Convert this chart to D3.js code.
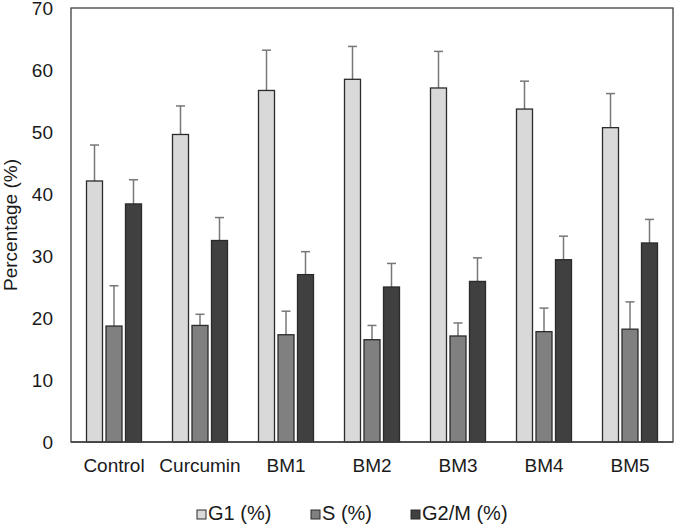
<!DOCTYPE html>
<html>
<head>
<meta charset="utf-8">
<script src="https://cdn.jsdelivr.net/npm/d3@7"></script>
<style>
  body { margin: 0; background: #fff; }
  svg text { font-family: "Liberation Sans", Arial, sans-serif; fill: #1a1a1a; }
</style>
</head>
<body>
<div id="chart"></div>
<script>
const groups = ["Control", "Curcumin", "BM1", "BM2", "BM3", "BM4", "BM5"];
const seriesNames = ["G1 (%)", "S (%)", "G2/M (%)"];
const g1Values  = [42.1, 49.6, 56.7, 58.5, 57.1, 53.7, 50.7];
const g1Errors  = [5.8, 4.6, 6.5, 5.3, 5.9, 4.5, 5.5];
const sValues   = [18.7, 18.8, 17.3, 16.5, 17.1, 17.8, 18.2];
const sErrors   = [6.5, 1.8, 3.8, 2.3, 2.1, 3.8, 4.4];
const g2mValues = [38.4, 32.5, 27.0, 25.0, 25.9, 29.4, 32.1];
const g2mErrors = [3.9, 3.7, 3.7, 3.8, 3.8, 3.8, 3.8];
const yTicks = [0, 10, 20, 30, 40, 50, 60, 70];
const colors = ["#d9d9d9", "#808080", "#404040"];

const series = [
  { name: seriesNames[0], values: g1Values, errors: g1Errors, color: colors[0] },
  { name: seriesNames[1], values: sValues, errors: sErrors, color: colors[1] },
  { name: seriesNames[2], values: g2mValues, errors: g2mErrors, color: colors[2] }
];

const W = 675, H = 526;
const MARGIN = { top: 8, right: 2, bottom: 84, left: 71 };
const chartWidth = W - MARGIN.left - MARGIN.right;
const chartHeight = H - MARGIN.top - MARGIN.bottom;
const FONT = 19;

const svg = d3.select("#chart").append("svg")
  .attr("width", W).attr("height", H);

const g = svg.append("g")
  .attr("transform", `translate(${MARGIN.left},${MARGIN.top})`);

const xScale = d3.scaleBand().domain(groups).range([0, chartWidth]).padding(0);
const yScale = d3.scaleLinear().domain([0, 70]).range([chartHeight, 0]);

const barW = 16, gap = 3.5;
const offsets = [-(barW + gap), 0, barW + gap];

// frame
g.append("rect")
  .attr("width", chartWidth).attr("height", chartHeight)
  .attr("fill", "none").attr("stroke", "#404040").attr("stroke-width", 1.3);

// y axis labels
g.append("g")
  .call(d3.axisLeft(yScale).tickValues(yTicks).tickSize(0).tickPadding(18))
  .call(a => a.select(".domain").remove())
  .call(a => a.selectAll("text").attr("font-size", FONT).style("font-family", "Liberation Sans, Arial, sans-serif").attr("fill", "#1a1a1a"));

// x axis labels
g.append("g")
  .attr("transform", `translate(0,${chartHeight})`)
  .call(d3.axisBottom(xScale).tickSize(0))
  .call(a => a.select(".domain").remove())
  .call(a => a.selectAll("text").attr("y", 30).attr("dy", 0).attr("font-size", FONT).style("font-family", "Liberation Sans, Arial, sans-serif").attr("fill", "#1a1a1a"));

g.append("text")
  .attr("transform", "rotate(-90)")
  .attr("x", -chartHeight / 2)
  .attr("y", -54)
  .attr("text-anchor", "middle")
  .attr("font-size", FONT)
  .text("Percentage (%)");

series.forEach((s, si) => {
  const sg = g.append("g");
  const cx = (d, i) => xScale(groups[i]) + xScale.bandwidth() / 2 + offsets[si];

  // error bars
  sg.selectAll(".err").data(s.values).enter().append("line")
    .attr("x1", cx).attr("x2", cx)
    .attr("y1", d => yScale(d))
    .attr("y2", (d, i) => yScale(d + s.errors[i]))
    .attr("stroke", "#777").attr("stroke-width", 1.5);
  sg.selectAll(".cap").data(s.values).enter().append("line")
    .attr("x1", (d, i) => cx(d, i) - 4.5).attr("x2", (d, i) => cx(d, i) + 4.5)
    .attr("y1", (d, i) => yScale(d + s.errors[i]))
    .attr("y2", (d, i) => yScale(d + s.errors[i]))
    .attr("stroke", "#777").attr("stroke-width", 1.5);

  sg.selectAll("rect").data(s.values).enter().append("rect")
    .attr("x", (d, i) => cx(d, i) - barW / 2)
    .attr("width", barW)
    .attr("y", d => yScale(d))
    .attr("height", d => chartHeight - yScale(d))
    .attr("fill", s.color)
    .attr("stroke", "#2b2b2b").attr("stroke-width", 1.3);
});

// redraw bottom axis line on top
g.append("line")
  .attr("x1", 0).attr("x2", chartWidth)
  .attr("y1", chartHeight).attr("y2", chartHeight)
  .attr("stroke", "#404040").attr("stroke-width", 1.3);

// legend
const legendX = [197, 311, 411];
const legend = svg.append("g");
series.forEach((s, i) => {
  legend.append("rect")
    .attr("x", legendX[i]).attr("y", 510)
    .attr("width", 9).attr("height", 9)
    .attr("fill", s.color).attr("stroke", "#2b2b2b").attr("stroke-width", 1);
  legend.append("text")
    .attr("x", legendX[i] + 11).attr("y", 520)
    .attr("font-size", 20)
    .text(s.name);
});
</script>
</body>
</html>
